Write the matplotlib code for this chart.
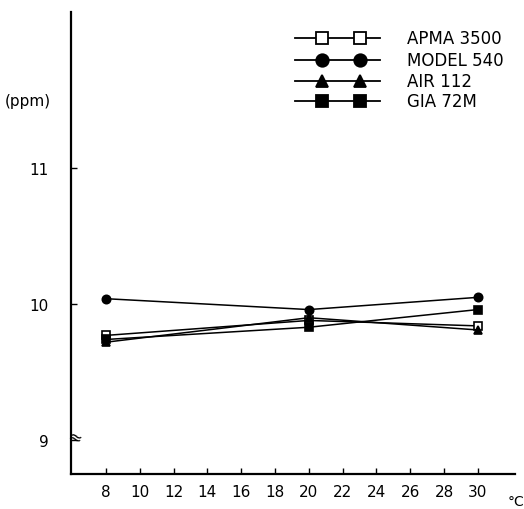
import matplotlib
matplotlib.use("Agg")
import matplotlib.pyplot as plt

# temperature (deg C) and readings (ppm) for each analyser
temps = [8, 20, 30]
apma_3500 = [9.77, 9.88, 9.84]
model_540 = [10.04, 9.96, 10.05]
air_112 = [9.72, 9.90, 9.81]
gia_72m = [9.74, 9.83, 9.96]

names = ["APMA 3500", "MODEL 540", "AIR 112", "GIA 72M"]
series = [apma_3500, model_540, air_112, gia_72m]
markers = ["s", "o", "^", "s"]
faces = ["white", "black", "black", "black"]

x_ticks = list(range(8, 31, 2))
y_ticks = [9, 10, 11]

plt.rcParams['font.family'] = ['DejaVu Sans']

fig = plt.figure(figsize=(5.24, 5.10), dpi=100)
ax = fig.add_axes([0.1355, 0.0686, 0.847, 0.906])

for vals, m, fc in zip(series, markers, faces):
    ax.plot(temps, vals, color="black", lw=1.1, marker=m, markersize=6,
            markerfacecolor=fc, markeredgecolor="black", markeredgewidth=1.2)

ax.set_xlim(5.93, 32.19)
ax.set_ylim(8.75, 12.15)
ax.set_xticks(x_ticks)
ax.set_yticks(y_ticks)
ax.tick_params(direction="in", length=4, width=1, labelsize=11)
ax.tick_params(axis="y", pad=16)
ax.tick_params(axis="x", pad=7)

for s in ["top", "right"]:
    ax.spines[s].set_visible(False)
for s in ["left", "bottom"]:
    ax.spines[s].set_linewidth(1.6)

# axis break mark near 9
ax.text(0.008, 0.08, "≈", transform=ax.transAxes, fontsize=12,
        ha="center", va="center", rotation=-20)

# hand-drawn style legend in the top right
row_y = [0.9437, 0.896, 0.8506, 0.807]
for name, m, fc, yy in zip(names, markers, faces, row_y):
    ax.plot([0.5045, 0.696], [yy, yy], transform=ax.transAxes, color="black",
            lw=1.3, clip_on=False)
    ax.plot([0.565, 0.651], [yy, yy], transform=ax.transAxes, ls="none",
            marker=m, markersize=9, markerfacecolor=fc, markeredgecolor="black",
            markeredgewidth=1.3, clip_on=False)
    ax.text(0.757, yy, name, transform=ax.transAxes, fontsize=12,
            ha="left", va="center")

fig.text(5 / 524, 1 - 102 / 510, "(ppm)", fontsize=11, ha="left", va="center")
fig.text(508 / 524, 1 - 502 / 510, "°C", fontsize=10, ha="left", va="center")

fig.savefig("out.png", dpi=100)
